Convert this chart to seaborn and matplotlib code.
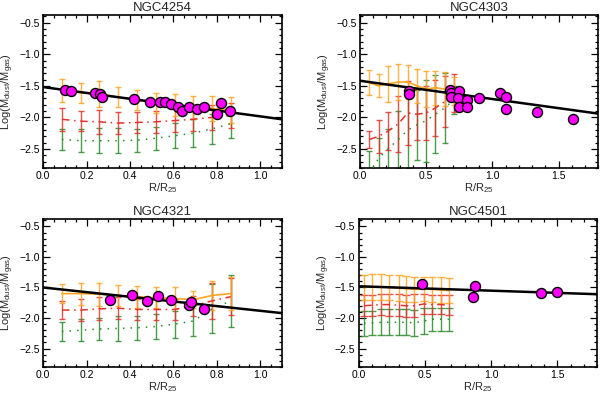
import numpy as np
import pandas as pd
import matplotlib
matplotlib.use("Agg")
import matplotlib.pyplot as plt
from matplotlib.ticker import MultipleLocator
import seaborn as sns

# ---------------- data ----------------
titles = ["NGC4254", "NGC4303", "NGC4321", "NGC4501"]

# NGC4254
bins_4254 = [0.086, 0.173, 0.259, 0.346, 0.432, 0.518, 0.605, 0.691, 0.778, 0.864]
org_4254 = [-1.57, -1.61, -1.63, -1.68, -1.72, -1.77, -1.80, -1.84, -1.86, -1.88]
org_err_4254 = [0.18, 0.16, 0.21, 0.16, 0.16, 0.16, 0.17, 0.18, 0.20, 0.21]
red_4254 = [-2.03, -2.06, -2.07, -2.09, -2.08, -2.07, -2.05, -2.03, -2.00, -1.97]
red_err_4254 = [0.18, 0.16, 0.19, 0.17, 0.17, 0.17, 0.18, 0.19, 0.20, 0.20]
grn_4254 = [-2.35, -2.37, -2.37, -2.37, -2.36, -2.33, -2.29, -2.25, -2.18, -2.10]
grn_err_4254 = [0.16, 0.18, 0.20, 0.20, 0.18, 0.18, 0.20, 0.22, 0.24, 0.23]
pts_x_4254 = [0.10, 0.13, 0.24, 0.26, 0.27, 0.42, 0.49, 0.54, 0.56, 0.59, 0.62, 0.64,
              0.67, 0.71, 0.74, 0.80, 0.82, 0.86]
pts_y_4254 = [-1.57, -1.58, -1.61, -1.63, -1.68, -1.71, -1.76, -1.75, -1.76, -1.79, -1.84, -1.90,
              -1.84, -1.86, -1.84, -1.95, -1.77, -1.90]
fit_x_4254 = [0.0, 1.1]
fit_y_4254 = [-1.52, -2.03]

# NGC4303
bins_4303 = [0.07, 0.14, 0.21, 0.29, 0.36, 0.43, 0.50, 0.57, 0.64, 0.71]
org_4303 = [-1.45, -1.50, -1.47, -1.44, -1.44, -1.50, -1.55, -1.53, -1.55, -1.58]
org_err_4303 = [0.20, 0.18, 0.28, 0.29, 0.27, 0.27, 0.28, 0.27, 0.27, 0.22]
red_4303 = [-2.35, -2.30, -2.22, -2.10, -1.93, -1.95, -1.93, -1.85, -1.75, -1.62]
red_err_4303 = [0.14, 0.26, 0.30, 0.44, 0.50, 0.40, 0.43, 0.45, 0.40, 0.30]
grn_4303 = [-2.90, -2.65, -2.50, -2.35, -2.20, -2.12, -2.05, -1.95, -1.85, -1.72]
grn_err_4303 = [0.37, 0.33, 0.32, 0.45, 0.60, 0.55, 0.65, 0.62, 0.55, 0.22]
pts_x_4303 = [0.37, 0.37, 0.68, 0.69, 0.69, 0.75, 0.74, 0.75, 0.81, 0.81, 0.90, 1.06,
              1.10, 1.10, 1.34, 1.61]
pts_y_4303 = [-1.58, -1.63, -1.57, -1.62, -1.67, -1.58, -1.70, -1.83, -1.72, -1.83, -1.70, -1.61,
              -1.67, -1.87, -1.91, -2.03]
fit_x_4303 = [0.0, 1.8]
fit_y_4303 = [-1.42, -1.94]

# NGC4321
bins_4321 = [0.086, 0.173, 0.259, 0.346, 0.432, 0.518, 0.605, 0.691, 0.778, 0.864]
org_4321 = [-1.60, -1.60, -1.61, -1.63, -1.65, -1.67, -1.68, -1.70, -1.63, -1.60]
org_err_4321 = [0.15, 0.18, 0.19, 0.17, 0.18, 0.17, 0.18, 0.14, 0.24, 0.27]
red_4321 = [-1.87, -1.87, -1.85, -1.84, -1.86, -1.86, -1.86, -1.80, -1.72, -1.65]
red_err_4321 = [0.15, 0.18, 0.19, 0.18, 0.17, 0.18, 0.17, 0.16, 0.30, 0.30]
grn_4321 = [-2.22, -2.20, -2.18, -2.17, -2.16, -2.14, -2.10, -2.05, -1.85, -1.72]
grn_err_4321 = [0.16, 0.18, 0.18, 0.20, 0.20, 0.20, 0.22, 0.24, 0.40, 0.42]
pts_x_4321 = [0.31, 0.41, 0.48, 0.53, 0.59, 0.67, 0.68, 0.74]
pts_y_4321 = [-1.70, -1.62, -1.72, -1.64, -1.71, -1.79, -1.74, -1.85]
fit_x_4321 = [0.0, 1.1]
fit_y_4321 = [-1.50, -1.92]

# NGC4501
bins_4501 = [0.04, 0.10, 0.17, 0.23, 0.30, 0.36, 0.42, 0.49, 0.55, 0.62, 0.68]
org_4501 = [-1.50, -1.49, -1.49, -1.50, -1.51, -1.52, -1.53, -1.52, -1.53, -1.54, -1.55]
org_err_4501 = [0.20, 0.21, 0.21, 0.21, 0.21, 0.21, 0.20, 0.20, 0.21, 0.21, 0.20]
red_4501 = [-1.80, -1.79, -1.78, -1.78, -1.79, -1.80, -1.80, -1.77, -1.78, -1.78, -1.79]
red_err_4501 = [0.17, 0.17, 0.17, 0.18, 0.18, 0.18, 0.19, 0.16, 0.16, 0.16, 0.16]
grn_4501 = [-2.09, -2.08, -2.07, -2.07, -2.07, -2.07, -2.08, -2.05, -2.02, -2.02, -2.02]
grn_err_4501 = [0.20, 0.20, 0.21, 0.21, 0.21, 0.21, 0.21, 0.21, 0.19, 0.19, 0.19]
pts_x_4501 = [0.48, 0.86, 0.88, 1.38, 1.50]
pts_y_4501 = [-1.45, -1.66, -1.48, -1.59, -1.57]
fit_x_4501 = [0.0, 1.8]
fit_y_4501 = [-1.48, -1.61]

xlims = [(0.0, 1.1), (0.0, 1.8), (0.0, 1.1), (0.0, 1.8)]
xmajor = [0.2, 0.5, 0.2, 0.5]
xminor = [0.05, 0.1, 0.05, 0.1]

# ---------------- style ----------------
sns.set_theme(style="ticks")
plt.rcParams["font.family"] = ["Liberation Sans", "DejaVu Sans"]
plt.rcParams["mathtext.fontset"] = "custom"
plt.rcParams["mathtext.rm"] = "Liberation Sans"
plt.rcParams["axes.unicode_minus"] = True

ORANGE = "#FFA41F"
RED = "#E4322B"
GREEN = "#2C8A2C"
MAGENTA = "#FF00FF"

fig = plt.figure(figsize=(6.0, 3.97), dpi=100)
positions = [
    [0.072, 0.577, 0.398, 0.385],
    [0.600, 0.577, 0.397, 0.385],
    [0.072, 0.076, 0.398, 0.372],
    [0.598, 0.076, 0.397, 0.372],
]

panels = [
    (bins_4254, org_4254, org_err_4254, red_4254, red_err_4254, grn_4254, grn_err_4254,
     pts_x_4254, pts_y_4254, fit_x_4254, fit_y_4254, 2.0),
    (bins_4303, org_4303, org_err_4303, red_4303, red_err_4303, grn_4303, grn_err_4303,
     pts_x_4303, pts_y_4303, fit_x_4303, fit_y_4303, 2.0),
    (bins_4321, org_4321, org_err_4321, red_4321, red_err_4321, grn_4321, grn_err_4321,
     pts_x_4321, pts_y_4321, fit_x_4321, fit_y_4321, 2.0),
    (bins_4501, org_4501, org_err_4501, red_4501, red_err_4501, grn_4501, grn_err_4501,
     pts_x_4501, pts_y_4501, fit_x_4501, fit_y_4501, 3.2),
]

for i, (pos, p) in enumerate(zip(positions, panels)):
    (bx, oy, oe, ry, re, gy, ge, px, py, fx, fy, cap) = p
    ax = fig.add_axes(pos)

    # error bars (green, red, orange)
    for yv, ev, col in [(gy, ge, GREEN), (ry, re, RED), (oy, oe, ORANGE)]:
        ax.errorbar(bx, yv, yerr=ev, fmt="none", ecolor=col, elinewidth=1.0,
                    capsize=cap, capthick=1.0, alpha=0.85, zorder=2)

    df_o = pd.DataFrame({"x": bx, "y": oy})
    df_r = pd.DataFrame({"x": bx, "y": ry})
    df_g = pd.DataFrame({"x": bx, "y": gy})
    sns.lineplot(data=df_g, x="x", y="y", ax=ax, color=GREEN, linewidth=1.1,
                 linestyle=(0, (1, 4)), sort=False, zorder=3)
    sns.lineplot(data=df_r, x="x", y="y", ax=ax, color=RED, linewidth=1.1,
                 linestyle=(0, (5, 3, 1, 3)), sort=False, zorder=3)
    sns.lineplot(data=df_o, x="x", y="y", ax=ax, color=ORANGE, linewidth=1.2,
                 sort=False, zorder=3)

    df_f = pd.DataFrame({"x": fx, "y": fy})
    sns.lineplot(data=df_f, x="x", y="y", ax=ax, color="black", linewidth=1.8,
                 sort=False, zorder=4)

    df_p = pd.DataFrame({"x": px, "y": py})
    sns.scatterplot(data=df_p, x="x", y="y", ax=ax, color=MAGENTA, edgecolor="black",
                    linewidth=1.0, s=52, zorder=5)

    ax.set_xlim(*xlims[i])
    ax.set_ylim(-2.8, -0.38)
    ax.xaxis.set_major_locator(MultipleLocator(xmajor[i]))
    ax.xaxis.set_minor_locator(MultipleLocator(xminor[i]))
    ax.yaxis.set_major_locator(MultipleLocator(0.5))
    ax.yaxis.set_minor_locator(MultipleLocator(0.1))
    ax.xaxis.set_major_formatter(plt.FuncFormatter(lambda v, _: f"{v:.1f}"))
    ax.yaxis.set_major_formatter(plt.FuncFormatter(lambda v, _: f"{v:.1f}".replace("-", "\u2212")))
    ax.tick_params(which="both", direction="in", top=True, right=True, labelsize=7.5,
                   width=0.9, colors="black")
    ax.tick_params(which="major", length=5, pad=2.5)
    ax.tick_params(which="minor", length=2.5)
    for s in ax.spines.values():
        s.set_linewidth(1.2)
        s.set_color("black")
    ax.set_title(titles[i], fontsize=9.5, pad=3)
    ax.set_xlabel(r"R/R$_{\mathregular{25}}$", fontsize=8, labelpad=0)
    ax.set_ylabel(r"Log(M$_{\mathregular{dust}}$/M$_{\mathregular{gas}}$)", fontsize=8, labelpad=2)

fig.savefig("out.png", dpi=100)
